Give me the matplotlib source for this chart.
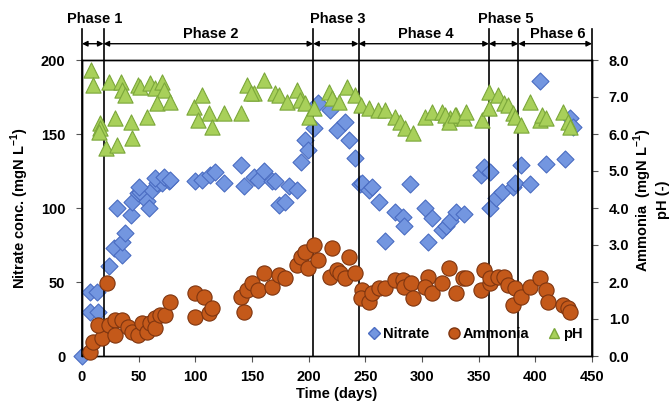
import matplotlib
matplotlib.use("Agg")
import matplotlib.pyplot as plt
from matplotlib.lines import Line2D

plt.rcParams['font.family'] = ['Liberation Sans', 'DejaVu Sans']
plt.rcParams['font.weight'] = 'bold'
plt.rcParams['font.size'] = 10.5
plt.rcParams['mathtext.fontset'] = 'custom'
plt.rcParams['mathtext.rm'] = 'Liberation Sans:bold'
plt.rcParams['mathtext.bf'] = 'Liberation Sans:bold'

# nitrate (left axis)
nitrate_day = [0, 7, 13, 7, 14, 24, 28, 35, 35, 38, 31, 43, 44, 49, 51, 57, 59, 62, 66,
               71, 77, 50, 64, 72, 78, 100, 106, 113, 117, 125, 140, 143, 152, 155, 161,
               168, 170, 174, 179, 183, 190, 193, 197, 199, 205, 208, 219, 225, 232, 236,
               241, 245, 247, 253, 256, 262, 267, 276, 283, 284, 289, 303, 305, 309, 318,
               321, 325, 330, 337, 352, 355, 360, 360, 365, 371, 380, 382, 387, 395, 404,
               409, 426, 431, 433]
nitrate = [0, 43, 43, 30, 30, 61, 73, 68, 77, 83, 100, 95, 104, 110, 111, 105, 100, 112, 117,
           117, 118, 114, 120, 121, 119, 118, 119, 122, 124, 117, 129, 115, 121, 119, 125,
           118, 118, 102, 104, 115, 112, 131, 146, 139, 154, 171, 166, 153, 158, 146,
           134, 116, 117, 112, 114, 104, 78, 97, 94, 88, 116, 100, 77, 93, 85,
           88, 91, 97, 96, 122, 128, 124, 100, 107, 111, 114, 117, 129, 116, 186,
           130, 133, 161, 155]

# ammonia (right axis)
ammonia_day = [7, 10, 18, 14, 22, 24, 29, 29, 35, 41, 44, 49, 53, 57, 60, 64, 64, 69, 73, 78,
               100, 108, 100, 112, 115, 140, 143, 146, 150, 155, 161, 168, 174, 179, 190,
               193, 197, 199, 205, 208, 221, 219, 225, 228, 232, 236, 241, 247, 246, 253,
               256, 262, 267, 276, 283, 284, 290, 292, 305, 303, 309, 318, 324, 330, 336,
               339, 352, 355, 360, 360, 367, 372, 376, 382, 380, 387, 395, 404, 409, 411,
               424, 429, 431]
ammonia = [0.11, 0.38, 0.49, 0.84, 1.97, 0.84, 0.97, 0.57, 0.97, 0.78, 0.65, 0.57, 0.89, 0.65,
           0.89, 1.03, 0.76, 1.11, 1.11, 1.46, 1.70, 1.60, 1.05, 1.16, 1.30, 1.60, 1.19,
           1.78, 1.97, 1.78, 2.24, 1.86, 2.19, 2.11, 2.46, 2.68, 2.81, 2.38, 3.00, 2.59,
           2.92, 2.14, 2.32, 2.24, 2.11, 2.68, 2.24, 1.78, 1.57, 1.46, 1.70, 1.84, 1.84,
           2.05, 2.05, 1.86, 1.97, 1.57, 2.14, 1.86, 1.70, 1.97, 2.38, 1.70, 2.11, 2.11,
           1.78, 2.32, 1.97, 2.11, 2.14, 2.14, 1.92, 1.84, 1.38, 1.60, 1.86, 2.11, 1.78,
           1.46, 1.38, 1.30, 1.19]

# pH (right axis)
ph_day = [8, 10, 24, 34, 35, 38, 49, 51, 60, 64, 71, 72, 66, 78, 16, 16, 15, 29, 43, 57, 21,
          31, 44, 99, 106, 112, 102, 115, 125, 140, 146, 161, 152, 149, 170, 174, 190, 181,
          192, 197, 200, 205, 218, 221, 227, 234, 241, 246, 253, 261, 267, 276, 281, 285,
          292, 303, 309, 318, 325, 330, 320, 324, 329, 337, 339, 353, 359, 359, 367, 372,
          376, 380, 382, 387, 395, 404, 406, 409, 424, 429, 431]
ph = [7.73, 7.32, 7.41, 7.41, 7.19, 7.05, 7.32, 7.27, 7.38, 7.24, 7.41, 7.19, 6.84, 6.86,
      6.30, 6.16, 6.05, 6.43, 6.32, 6.46, 5.62, 5.70, 5.89, 6.73, 7.05, 6.57, 6.38, 6.19,
      6.57, 6.57, 7.32, 7.46, 7.11, 7.11, 7.11, 7.05, 7.19, 6.86, 6.92, 6.84, 6.46, 6.70,
      7.14, 6.97, 6.86, 7.27, 7.05, 6.78, 6.70, 6.65, 6.65, 6.46, 6.32, 6.16, 6.03, 6.46,
      6.59, 6.59, 6.43, 6.51, 6.51, 6.32, 6.51, 6.43, 6.59, 6.38, 7.14, 6.70, 7.05, 6.84,
      6.78, 6.57, 6.46, 6.24, 6.86, 6.38, 6.51, 6.43, 6.59, 6.32, 6.19]

phase_edges = [0, 19, 204, 244, 359, 385, 450]
phase_names = ['Phase 1', 'Phase 2', 'Phase 3', 'Phase 4', 'Phase 5', 'Phase 6']

blue_face, blue_edge = '#7396e0', '#4a6cc2'
brown_face, brown_edge = '#c4591a', '#7e3510'
green_face, green_edge = '#a8d05a', '#7ba73a'

fig = plt.figure(figsize=(6.7, 4.07), dpi=100)
ax = fig.add_axes([82 / 670, 1 - 356 / 407, 510 / 670, 296 / 407])
ax2 = ax.twinx()

ax.scatter(nitrate_day, nitrate, marker='D', s=75, c=blue_face, edgecolors=blue_edge,
           linewidths=0.8, zorder=3, clip_on=False)
ax2.scatter(ammonia_day, ammonia, marker='o', s=120, c=brown_face, edgecolors=brown_edge,
            linewidths=0.8, zorder=3, clip_on=False)
ax2.scatter(ph_day, ph, marker='^', s=120, c=green_face, edgecolors=green_edge,
            linewidths=0.8, zorder=3, clip_on=False)

ax.set_xlim(0, 450)
ax.set_ylim(0, 200)
ax2.set_ylim(0, 8)
ax.set_xticks(range(0, 451, 50))
ax.set_yticks(range(0, 201, 50))
ax2.set_yticks(range(0, 9))
ax2.set_yticklabels(['%.1f' % v for v in range(0, 9)])

for a in (ax, ax2):
    a.tick_params(direction='out', length=4, width=0.8, color='#555555', labelsize=10.5)
    for s in a.spines.values():
        s.set_linewidth(1.0)
ax.tick_params(axis='y', pad=8)
ax.tick_params(axis='x', pad=6)
ax2.tick_params(axis='y', pad=8)

unit = r'(mgN L$^{\mathbf{-1}}$)'
ax.set_xlabel('Time (days)', fontsize=10.5, fontweight='bold', labelpad=2)
fig.text(20 / 670, 1 - 208 / 407, 'Nitrate conc. ' + unit, rotation=90,
         ha='center', va='center', fontsize=10.5, fontweight='bold')
fig.text(651 / 670, 1 - 200 / 407, 'Ammonia  ' + unit + '\npH (-)', rotation=90,
         ha='center', va='center', multialignment='center', fontsize=10.5,
         fontweight='bold', linespacing=1.2)

# phase boundaries and arrows
for e in phase_edges:
    ax.plot([e, e], [0, 221], color='black', lw=1.2, zorder=5, clip_on=False)
for i, name in enumerate(phase_names):
    a0, a1 = phase_edges[i], phase_edges[i + 1]
    ax.annotate('', xy=(a1, 211), xytext=(a0, 211),
                arrowprops=dict(arrowstyle='<|-|>', color='black', lw=1.0,
                                mutation_scale=8, shrinkA=0, shrinkB=0),
                annotation_clip=False)
    yt = 227.5 if i % 2 == 0 else 217.5
    ax.text((a0 + a1) / 2 + 2, yt, name, ha='center', va='center', fontsize=10.5,
            fontweight='bold')

handles = [
    Line2D([], [], marker='D', ls='none', ms=6, mfc=blue_face, mec=blue_edge, label='Nitrate'),
    Line2D([], [], marker='o', ls='none', ms=8, mfc=brown_face, mec=brown_edge, label='Ammonia'),
    Line2D([], [], marker='^', ls='none', ms=7, mfc=green_face, mec=green_edge, label='pH'),
]
ax2.legend(handles=handles, loc='center', bbox_to_anchor=(0.77, 0.075), ncol=3,
           frameon=False, handletextpad=0.1, columnspacing=1.2, handlelength=1.0,
           fontsize=10.5, borderaxespad=0)

fig.savefig('out.png', dpi=100)
